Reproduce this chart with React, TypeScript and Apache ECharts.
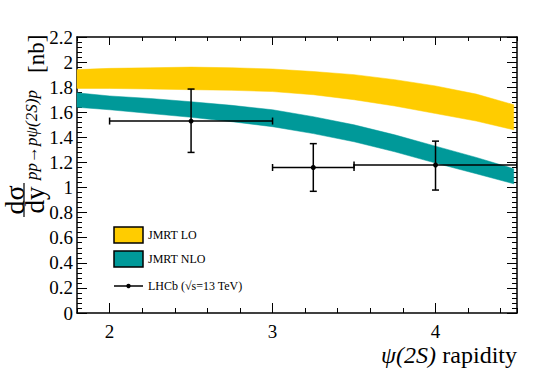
import React, { useEffect, useRef } from "react";
import * as echarts from "echarts";

// ---- data ----
const bandX = [1.8, 2.0, 2.25, 2.5, 2.75, 3.0, 3.25, 3.5, 3.75, 4.0, 4.25, 4.48];
const loUpper = [1.94, 1.95, 1.955, 1.96, 1.955, 1.945, 1.925, 1.9, 1.86, 1.81, 1.745, 1.66];
const loLower = [1.79, 1.79, 1.785, 1.78, 1.775, 1.765, 1.74, 1.7, 1.65, 1.59, 1.53, 1.46];
const nloUpper = [1.755, 1.73, 1.71, 1.684, 1.655, 1.62, 1.565, 1.5, 1.42, 1.33, 1.24, 1.15];
const nloLower = [1.64, 1.62, 1.59, 1.56, 1.525, 1.485, 1.43, 1.365, 1.285, 1.195, 1.11, 1.03];

const lhcbX = [2.5, 3.25, 4.0];
const lhcbXLow = [2.0, 3.0, 3.5];
const lhcbXHigh = [3.0, 3.5, 4.5];
const lhcbY = [1.53, 1.16, 1.18];
const lhcbYLow = [1.28, 0.97, 0.98];
const lhcbYHigh = [1.785, 1.35, 1.37];

const xMajorTicks = [2, 3, 4];
const xLabels = [2, 3, 4];

const legendNames = ["JMRT LO", "JMRT NLO", "LHCb (\u221As=13 TeV)"];

const YELLOW = "#FFCC00";
const TEAL = "#009999";
const FONT = "Liberation Serif";

export default function App() {
  const ref = useRef<HTMLDivElement>(null);
  useEffect(() => {
    if (!ref.current) return;
    const chart = echarts.init(ref.current, undefined, { renderer: "svg" });

    const bandSeries = (name: string, lower: number[], upper: number[], color: string) => ({
      type: "custom",
      name,
      data: [[bandX[0], lower[0]]],
      silent: true,
      renderItem: (params: any, api: any) => {
        const pts: number[][] = [];
        bandX.forEach((x, i) => pts.push(api.coord([x, upper[i]])));
        for (let i = bandX.length - 1; i >= 0; i--) pts.push(api.coord([bandX[i], lower[i]]));
        return { type: "polygon", shape: { points: pts }, style: { fill: color, stroke: color, lineWidth: 0.5 } };
      },
    });

    const errData = lhcbX.map((x, i) => [x, lhcbY[i], lhcbXLow[i], lhcbXHigh[i], lhcbYLow[i], lhcbYHigh[i]]);

    const lineBlack = { show: true, lineStyle: { color: "#000", width: 1.5 } };

    const xBase = { type: "value", min: 1.8, max: 4.5, splitLine: { show: false } };
    const yBase = { type: "value", min: 0, max: 2.2, interval: 0.2, splitLine: { show: false } };

    const option: any = {
      animation: false,
      textStyle: { fontFamily: FONT },
      grid: { left: 77, right: 28, top: 37, bottom: 58, containLabel: false, outerBoundsMode: "none" },
      xAxis: [
        {
          ...xBase,
          position: "bottom",
          interval: 0.2,
          axisLine: lineBlack,
          axisTick: { show: true, inside: true, length: 5, lineStyle: { color: "#000", width: 1 } },
          axisLabel: {
            fontFamily: FONT,
            fontSize: 19,
            color: "#000",
            margin: 9,
            customValues: xLabels,
            formatter: (v: number) => String(Math.round(v)),
          },
        },
        {
          ...xBase,
          position: "bottom",
          axisLine: { show: false },
          axisTick: { show: true, inside: true, length: 10, customValues: xMajorTicks, lineStyle: { color: "#000", width: 1 } },
          axisLabel: { show: false },
        },
        {
          ...xBase,
          position: "top",
          interval: 0.2,
          axisLine: lineBlack,
          axisTick: { show: true, inside: true, length: 4, lineStyle: { color: "#000", width: 1 } },
          axisLabel: { show: false },
        },
        {
          ...xBase,
          position: "top",
          axisLine: { show: false },
          axisTick: { show: true, inside: true, length: 8, customValues: xMajorTicks, lineStyle: { color: "#000", width: 1 } },
          axisLabel: { show: false },
        },
      ],
      yAxis: [
        {
          ...yBase,
          position: "left",
          axisLine: lineBlack,
          axisTick: { show: true, inside: true, length: 10, lineStyle: { color: "#000", width: 1 } },
          minorTick: { show: true, splitNumber: 5, length: 5, lineStyle: { color: "#000", width: 1 } },
          axisLabel: { fontFamily: FONT, fontSize: 19, color: "#000", margin: 4 },
        },
        {
          ...yBase,
          position: "right",
          axisLine: lineBlack,
          axisTick: { show: true, inside: true, length: 10, lineStyle: { color: "#000", width: 1 } },
          minorTick: { show: true, splitNumber: 5, length: 5, lineStyle: { color: "#000", width: 1 } },
          axisLabel: { show: false },
        },
      ],
      series: [
        bandSeries(legendNames[0], loLower, loUpper, YELLOW),
        bandSeries(legendNames[1], nloLower, nloUpper, TEAL),
        {
          type: "custom",
          name: legendNames[2],
          data: errData,
          clip: true,
          z: 5,
          renderItem: (params: any, api: any) => {
            const x = api.value(0), y = api.value(1);
            const xl = api.value(2), xh = api.value(3);
            const yl = api.value(4), yh = api.value(5);
            const c = api.coord([x, y]);
            const pxl = api.coord([xl, y]);
            const pxh = api.coord([xh, y]);
            const pyl = api.coord([x, yl]);
            const pyh = api.coord([x, yh]);
            const st = { stroke: "#000", lineWidth: 1.5 };
            const cap = 3.5;
            return {
              type: "group",
              children: [
                { type: "line", shape: { x1: pxl[0], y1: c[1], x2: pxh[0], y2: c[1] }, style: st },
                { type: "line", shape: { x1: c[0], y1: pyl[1], x2: c[0], y2: pyh[1] }, style: st },
                { type: "line", shape: { x1: pxl[0], y1: c[1] - cap, x2: pxl[0], y2: c[1] + cap }, style: st },
                { type: "line", shape: { x1: pxh[0], y1: c[1] - cap, x2: pxh[0], y2: c[1] + cap }, style: st },
                { type: "line", shape: { x1: c[0] - cap, y1: pyl[1], x2: c[0] + cap, y2: pyl[1] }, style: st },
                { type: "line", shape: { x1: c[0] - cap, y1: pyh[1], x2: c[0] + cap, y2: pyh[1] }, style: st },
                { type: "circle", shape: { cx: c[0], cy: c[1], r: 2.5 }, style: { fill: "#000" } },
              ],
            };
          },
        },
      ],
      graphic: [
        // y-axis title (rotated)
        {
          type: "group",
          x: 0,
          y: 313,
          rotation: Math.PI / 2,
          children: [
            { type: "text", x: 113, y: 14.5, style: { text: "d\u03C3", font: `28px ${FONT}`, fill: "#000", align: "center", verticalAlign: "middle" } },
            { type: "line", shape: { x1: 96, y1: 24, x2: 130, y2: 24 }, style: { stroke: "#000", lineWidth: 1.2 } },
            { type: "text", x: 113, y: 35, style: { text: "dy", font: `27px ${FONT}`, fill: "#000", align: "center", verticalAlign: "middle" } },
            { type: "text", x: 133, y: 31, style: { text: "pp\u2192p\u03C8(2S)p", font: `italic 17px ${FONT}`, fill: "#000", align: "left", verticalAlign: "middle" } },
            { type: "text", x: 240, y: 36, style: { text: "[nb]", font: `23px ${FONT}`, fill: "#000", align: "left", verticalAlign: "middle" } },
          ],
        },
        // x-axis title
        { type: "text", x: 517, y: 355, style: { text: "rapidity", font: `24px ${FONT}`, fill: "#000", align: "right", verticalAlign: "middle" } },
        { type: "text", x: 436, y: 355, style: { text: "\u03C8(2S)", font: `italic 24px ${FONT}`, fill: "#000", align: "right", verticalAlign: "middle" } },
        // legend
        { type: "rect", shape: { x: 114, y: 227, width: 29, height: 16 }, style: { fill: YELLOW, stroke: "#000", lineWidth: 1.5 } },
        { type: "text", x: 148, y: 235, style: { text: legendNames[0], font: `12px ${FONT}`, fill: "#000", verticalAlign: "middle" } },
        { type: "rect", shape: { x: 114, y: 251, width: 29, height: 16 }, style: { fill: TEAL, stroke: "#000", lineWidth: 1.5 } },
        { type: "text", x: 148, y: 259, style: { text: legendNames[1], font: `12px ${FONT}`, fill: "#000", verticalAlign: "middle" } },
        { type: "line", shape: { x1: 114, y1: 286, x2: 143, y2: 286 }, style: { stroke: "#000", lineWidth: 1.5 } },
        { type: "circle", shape: { cx: 128.5, cy: 286, r: 2.2 }, style: { fill: "#000" } },
        { type: "text", x: 148, y: 286, style: { text: legendNames[2], font: `12px ${FONT}`, fill: "#000", verticalAlign: "middle" } },
      ],
    };
    chart.setOption(option);
    return () => chart.dispose();
  }, []);
  return <div ref={ref} style={{ width: 545, height: 371, position: "absolute", left: 0, top: 0 }} />;
}
